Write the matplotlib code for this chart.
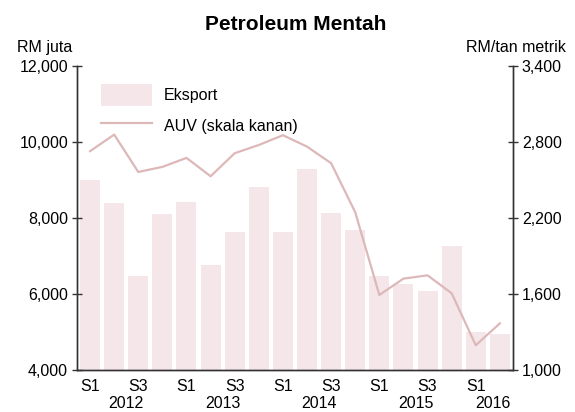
import numpy as np
import matplotlib
matplotlib.use("Agg")
import matplotlib.pyplot as plt
from matplotlib.ticker import FuncFormatter

plt.rcParams['font.family'] = ['Liberation Sans Narrow', 'Liberation Sans', 'DejaVu Sans']

# quarterly data, 2012 S1 .. 2016 S2
quarters = ["S1", "S2", "S3", "S4"] * 4 + ["S1", "S2"]
years = ["2012", "2013", "2014", "2015", "2016"]
eksport = [9000, 8400, 6470, 8100, 8420, 6760, 7630, 8820, 7630, 9290,
           8130, 7680, 6470, 6260, 6080, 7260, 5000, 4950]
auv = [2727, 2858, 2563, 2603, 2674, 2529, 2711, 2776, 2853, 2763,
       2632, 2245, 1592, 1721, 1747, 1605, 1195, 1368]

bar_color = "#F4E6E9"
line_color = "#DDB8B9"
axis_color = "#333333"

fig = plt.figure(figsize=(5.75, 4.12), dpi=100)
ax = fig.add_axes([0.134, 0.102, 0.758, 0.738])
ax2 = ax.twinx()

x = np.arange(len(eksport))
ax.bar(x, eksport, width=0.83, color=bar_color, label="Eksport", zorder=1)
ax2.plot(x, auv, color=line_color, lw=1.6, label="AUV (skala kanan)")

ax.set_xlim(-0.54, len(x) - 0.46)
ax.set_ylim(4000, 12000)
ax2.set_ylim(1000, 3400)
ax.set_yticks([4000, 6000, 8000, 10000, 12000])
ax2.set_yticks([1000, 1600, 2200, 2800, 3400])
fmt = FuncFormatter(lambda v, p: f"{int(v):,}")
ax.yaxis.set_major_formatter(fmt)
ax2.yaxis.set_major_formatter(fmt)

for a in (ax, ax2):
    a.spines['top'].set_visible(False)
    for s in ('left', 'right', 'bottom'):
        a.spines[s].set_color(axis_color)
        a.spines[s].set_linewidth(1.0)
    a.tick_params(axis='y', direction='inout', length=7, width=1.0,
                  color=axis_color, labelsize=11.5, pad=3)
ax.set_xticks([])

# x labels: S1 / S3 and years
trans = ax.get_xaxis_transform()
for i, q in enumerate(quarters):
    if q in ("S1", "S3"):
        ax.text(i, -0.053, q, transform=trans, ha='center', va='center', fontsize=11.5)
for k, yr in enumerate(years):
    pos = 4 * k + 1.5
    if yr == "2016":
        pos = 16.7
    ax.text(pos, -0.109, yr, transform=trans, ha='center', va='center', fontsize=11.5)

fig.text(0.515, 0.94, "Petroleum Mentah", ha='center', va='center',
         fontsize=15, fontweight='bold', family=['Liberation Sans', 'DejaVu Sans'])
fig.text(0.03, 0.885, "RM juta", ha='left', va='center', fontsize=11.5)
fig.text(0.985, 0.885, "RM/tan metrik", ha='right', va='center', fontsize=11.5)

h1, l1 = ax.get_legend_handles_labels()
h2, l2 = ax2.get_legend_handles_labels()
ax2.legend(h1 + h2, l1 + l2, loc='upper left', bbox_to_anchor=(0.04, 0.96),
           frameon=False, fontsize=11.5, handlelength=3.2, handleheight=1.65,
           labelspacing=0.6, handletextpad=0.75, borderaxespad=0)

fig.savefig("out.png", dpi=100)
